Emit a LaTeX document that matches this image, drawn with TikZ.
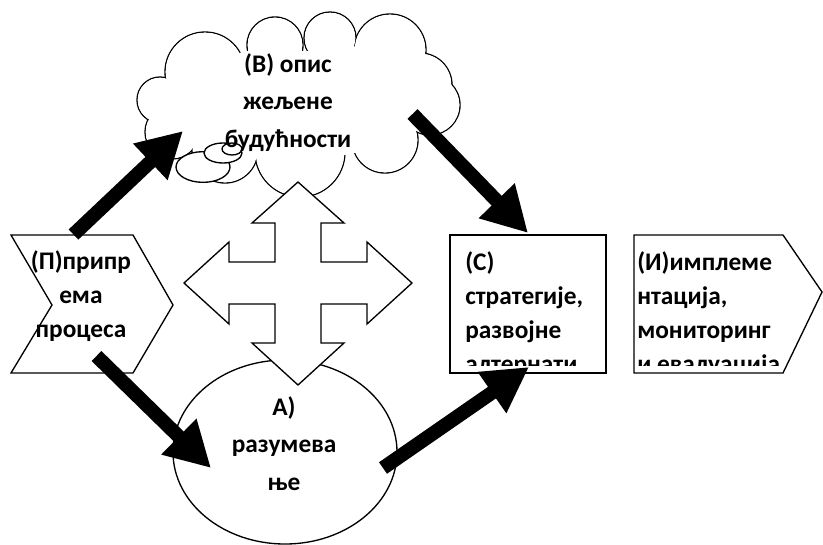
\documentclass[tikz,border=0pt]{standalone}
\usepackage{fontspec}
\setmainfont{Carlito}
\usetikzlibrary{shapes.geometric,arrows.meta}

\begin{document}
\begin{tikzpicture}[x=0.75pt,y=-0.75pt,
    outline/.style={draw,line width=1pt,fill=white},
    bigtext/.style={font=\bfseries\fontsize{19}{28}\selectfont,align=center,inner sep=0pt,anchor=base},
    sidetext/.style={font=\bfseries\fontsize{19}{25.5}\selectfont,align=center,inner sep=0pt,anchor=base},
    boxtext/.style={font=\bfseries\fontsize{19}{25.5}\selectfont,align=left,inner sep=0pt,anchor=base west},
    flow/.style={-{Triangle[length=33.75pt,width=35.25pt]},line width=10.5pt}
  ]
    \useasboundingbox (0,0) rectangle (823,544);
    \foreach \cx/\cy/\r in {160/100/23, 205/72/40, 275/45/28, 330/38/26, 390/50/36, 420/85/32,
        430/105/30, 385/140/33, 300/152/45, 225/150/33, 172/132/27}
      \draw[line width=1pt] (\cx,\cy) circle[radius=\r];
    \foreach \cx/\cy/\r in {160/100/23, 205/72/40, 275/45/28, 330/38/26, 390/50/36, 420/85/32,
        430/105/30, 385/140/33, 300/152/45, 225/150/33, 172/132/27}
      \fill[white] (\cx,\cy) circle[radius={\r-0.7}];
    \fill[white] (300,105) ellipse[x radius=118,y radius=54];
    \foreach \cx/\cy/\r in {250/80/29, 200/110/27, 350/75/29, 400/110/24}
      \fill[white] (\cx,\cy) circle[radius=\r];
    \node[outline,ellipse,inner sep=0pt,minimum width=40.5pt,minimum height=23pt] (bubbleA) at (203,167) {};
    \node[outline,ellipse,inner sep=0pt,minimum width=28.5pt,minimum height=15pt] (bubbleB) at (223,153) {};
    \node[outline,ellipse,inner sep=0pt,minimum width=15pt,minimum height=9pt] (bubbleC) at (232,149) {};
    \node[outline,ellipse,minimum width=168pt,minimum height=138pt] (grasp) at (285,452) {};
    \node[outline,minimum width=117pt,minimum height=103.5pt] (strategy) at (528,304) {};
    \draw[outline] (11,235) -- (133,235) -- (173,305) -- (133,373) -- (11,373) -- (52,305) -- cycle;
    \draw[outline] (634,235) -- (783,235) -- (822,292) -- (783,373) -- (634,373) -- cycle;
    \draw[outline,shift={(298,283)}] (0,-101) -- (46,-60) -- (23,-60) -- (23,-21) -- (69,-21) -- (69,-41)
      -- (114,0) -- (69,41) -- (69,21) -- (23,21) -- (23,60) -- (46,60) -- (0,102) -- (-46,60)
      -- (-23,60) -- (-23,21) -- (-69,21) -- (-69,41) -- (-114,0) -- (-69,-41) -- (-69,-21)
      -- (-23,-21) -- (-23,-60) -- (-46,-60) -- cycle;

    \node[bigtext] (visiontext) at (288,147) {(В) опис\\жељене\\будућности};
    \node[bigtext] (grasptext) at (284,490) {А)\\разумева\\ње};
    \node[sidetext] (preptext) at (81,337) {(П)припр\\ема\\процеса};
    \begin{scope}
      \clip (450,235) rectangle (606,365);
      \node[boxtext] (strategytext) at (465,372) {(С)\\стратегије,\\развојне\\алтернати};
    \end{scope}
    \begin{scope}
      \clip (634,235) rectangle (790,365);
      \node[boxtext] (actiontext) at (637,372) {(И)имплеме\\нтација,\\мониторинг\\и евалуација};
    \end{scope}

    \coordinate (prep-up) at (73.5,234.5);
    \coordinate (vision-in) at (183,131);
    \coordinate (vision-out) at (412.5,114);
    \coordinate (strategy-top) at (528,233);
    \coordinate (prep-down) at (96.5,356);
    \coordinate (grasp-in) at (211,468);
    \coordinate (grasp-out) at (383,468);
    \coordinate (strategy-bottom) at (529,367);
    \draw[flow] (prep-up) -- (vision-in);
    \draw[flow] (vision-out) -- (strategy-top);
    \draw[flow] (prep-down) -- (grasp-in);
    \draw[flow] (grasp-out) -- (strategy-bottom);
  \end{tikzpicture}
\end{document}
